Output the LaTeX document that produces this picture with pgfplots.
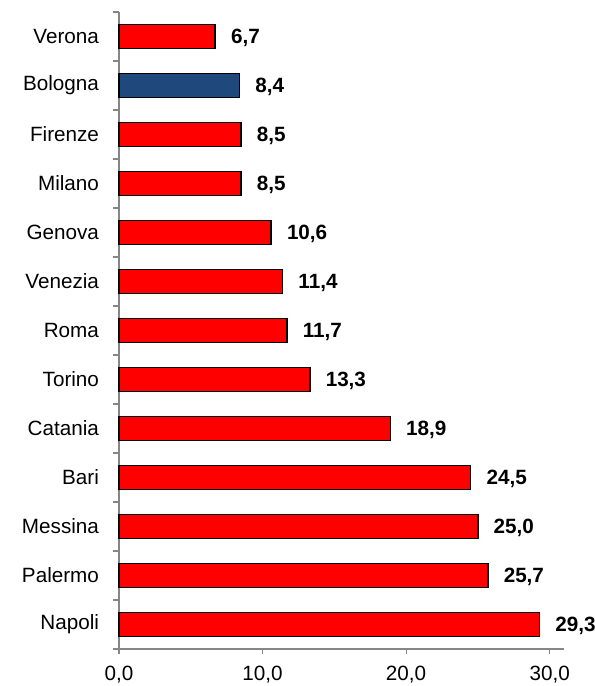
\documentclass[border=0pt]{standalone}
\usepackage{pgfplots}
\pgfplotsset{compat=1.18}
\usepackage{fontspec}
\setmainfont{Liberation Sans}
\definecolor{barred}{RGB}{255,0,0}
\definecolor{barblue}{RGB}{31,73,125}
\definecolor{axgray}{RGB}{134,134,134}
\begin{document}
\begin{tikzpicture}
\useasboundingbox (-89.25pt,-27.75pt) rectangle (356.25pt,486.75pt);
\begin{axis}[
  name=ax,
  at={(0pt,0pt)}, anchor=south west,
  scale only axis,
  width=333.75pt, height=477.75pt,
  xbar, bar width=0.5, bar shift=0pt,
  xmin=0, xmax=31, ymin=-0.5, ymax=12.5,
  axis x line*=bottom, axis y line*=left,
  axis line style={axgray, line width=0.8pt},
  xtick={0,10,20,30},
  ytick={0,...,12},
  yticklabels={Napoli,Palermo,Messina,Bari,Catania,Torino,Roma,Venezia,Genova,Milano,Firenze,Bologna,Verona},
  minor ytick={-0.5,0.5,...,12.5},
  major tick length=4pt,
  minor tick length=4.5pt,
  tick align=outside,
  tick style={axgray, line width=0.8pt},
  every major y tick/.append style={draw=none},
  every minor y tick/.append style={draw=axgray, line width=0.8pt},
  tick label style={font=\fontsize{15.5}{18}\selectfont},
  yticklabel style={xshift=-7.5pt},
  xticklabel style={yshift=-5.5pt},
  /pgf/number format/assume math mode=true,
  xticklabel={\pgfmathprintnumber[use comma,fixed,fixed zerofill,precision=1]{\tick}},
  nodes near coords={\pgfmathprintnumber[use comma,fixed,fixed zerofill,precision=1]{\pgfplotspointmeta}},
  nodes near coords align={horizontal},
  every node near coord/.append style={font=\bfseries\fontsize{15.5}{18}\selectfont, black, xshift=8pt, yshift=-1pt, anchor=west},
  clip=false,
]
\addplot[fill=barred, draw=black, line width=1.1pt] coordinates {
(29.3,0) (25.7,1) (25.0,2) (24.5,3) (18.9,4) (13.3,5) (11.7,6) (11.4,7) (10.6,8) (8.5,9) (8.5,10) (6.7,12)};
\addplot[fill=barblue, draw=black, line width=1.1pt] coordinates {(8.4,11)};
\end{axis}
\end{tikzpicture}
\end{document}
